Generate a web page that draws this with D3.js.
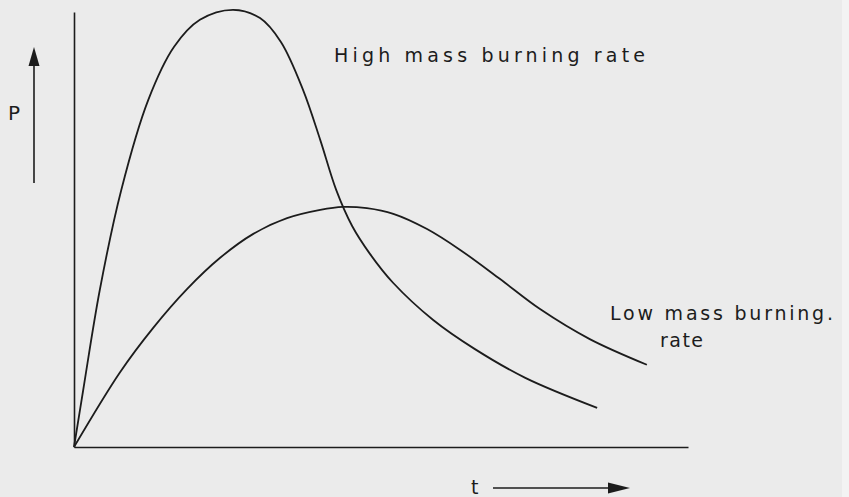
<!DOCTYPE html>
<html>
<head>
<meta charset="utf-8">
<script src="https://cdn.jsdelivr.net/npm/d3@7"></script>
<style>
  html, body { margin: 0; padding: 0; background: #ebebeb; }
  svg { display: block; }
  text { font-family: "DejaVu Sans", "Noto Sans", sans-serif; fill: #1c1c1c; }
</style>
</head>
<body>
<svg id="chart" width="849" height="497"></svg>
<script>
// Pressure P against time t for two propellant mass burning rates
const highT = [0, 1.5, 4.2, 7.7, 12.1, 16.3, 20.5, 25.9, 30.3, 33.7, 37.3, 40.1, 42.7, 45.3, 48.2, 52.0, 58.5, 65.3, 73.5, 85.2];
const highP = [0, 13.1, 36.1, 59.1, 79.8, 92.0, 98.2, 100.5, 98.6, 93.1, 82.1, 70.6, 59.1, 50.8, 44.4, 37.7, 29.2, 22.5, 15.9, 9.0];

const lowT = [0, 7.5, 12.9, 18.4, 23.8, 29.2, 34.7, 40.1, 43.8, 47.7, 52.0, 57.5, 62.9, 69.4, 75.9, 84.0, 93.3];
const lowP = [0, 17.2, 27.4, 36.3, 43.5, 49.0, 52.6, 54.5, 55.2, 54.9, 53.6, 50.1, 45.3, 38.6, 31.7, 24.8, 18.9];

const seriesLabels = ["High mass burning rate", "Low mass burning.", "rate"];
const axisLabels = ["P", "t"];

const svg = d3.select("#chart");
const W = 849, H = 497;
const ink = "#1c1c1c";

// faint lighter strip along the right edge of the page
svg.append("rect").attr("x", 842).attr("y", 0).attr("width", 7).attr("height", H).attr("fill", "#f3f3f3");

const x = d3.scaleLinear().domain([0, 100]).range([74, 688]);
const y = d3.scaleLinear().domain([0, 100]).range([447, 12]);

// axes: plain lines with no ticks
const gx = svg.append("g").attr("transform", `translate(0,${y(0)})`)
  .call(d3.axisBottom(x).ticks(0).tickSizeOuter(0));
const gy = svg.append("g").attr("transform", `translate(${x(0)},0)`)
  .call(d3.axisLeft(y).ticks(0).tickSizeOuter(0));
[gx, gy].forEach(g => {
  g.select(".domain").attr("stroke", ink).attr("stroke-width", 1.6);
  g.selectAll("text").remove();
});

const line = d3.line()
  .x(d => x(d[0]))
  .y(d => y(d[1]))
  .curve(d3.curveCatmullRom.alpha(0.5));

const high = highT.map((t, i) => [t, highP[i]]);
const low = lowT.map((t, i) => [t, lowP[i]]);

svg.append("path").datum(high).attr("d", line)
  .attr("fill", "none").attr("stroke", ink).attr("stroke-width", 1.8);
svg.append("path").datum(low).attr("d", line)
  .attr("fill", "none").attr("stroke", ink).attr("stroke-width", 1.8);

// curve labels
svg.append("text").attr("x", 334).attr("y", 62)
  .attr("font-size", 19).attr("textLength", 311).attr("lengthAdjust", "spacing")
  .text(seriesLabels[0]);
svg.append("text").attr("x", 610).attr("y", 320)
  .attr("font-size", 19).attr("textLength", 223).attr("lengthAdjust", "spacing")
  .text(seriesLabels[1]);
svg.append("text").attr("x", 660).attr("y", 347)
  .attr("font-size", 19).attr("textLength", 43).attr("lengthAdjust", "spacing")
  .text(seriesLabels[2]);

// axis direction arrows with their letters
svg.append("line").attr("x1", 34).attr("y1", 183).attr("x2", 34).attr("y2", 62)
  .attr("stroke", ink).attr("stroke-width", 1.6);
svg.append("path").attr("d", "M34,47 L28.5,66 L39.5,66 Z").attr("fill", ink);
svg.append("text").attr("x", 8).attr("y", 120).attr("font-size", 20).text(axisLabels[0]);

svg.append("line").attr("x1", 493).attr("y1", 488).attr("x2", 612).attr("y2", 488)
  .attr("stroke", ink).attr("stroke-width", 1.6);
svg.append("path").attr("d", "M630,488 L608,482.5 L608,493.5 Z").attr("fill", ink);
svg.append("text").attr("x", 471).attr("y", 494).attr("font-size", 19).text(axisLabels[1]);
</script>
</body>
</html>
